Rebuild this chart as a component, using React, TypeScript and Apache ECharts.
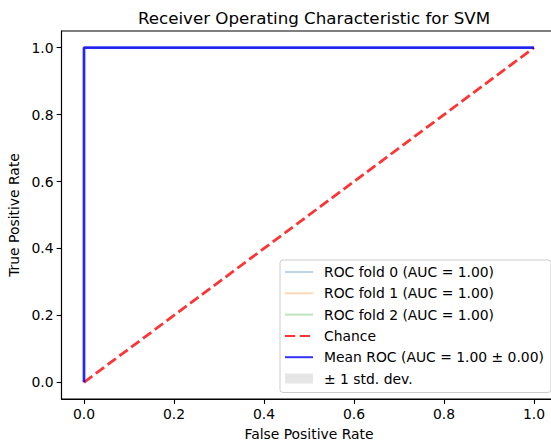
import React, { useEffect, useRef } from "react";
import * as echarts from "echarts";

const titleText = "Receiver Operating Characteristic for SVM";
const xAxisName = "False Positive Rate";
const yAxisName = "True Positive Rate";
const tickValues = [0, 0.2, 0.4, 0.6, 0.8, 1.0];

const foldNames = [
  "ROC fold 0 (AUC = 1.00)",
  "ROC fold 1 (AUC = 1.00)",
  "ROC fold 2 (AUC = 1.00)",
];
const foldColors = ["rgba(31,119,180,0.3)", "rgba(255,127,14,0.3)", "rgba(44,160,44,0.3)"];
const foldFpr = [
  [0, 0, 1],
  [0, 0, 1],
  [0, 0, 1],
];
const foldTpr = [
  [0, 1, 1],
  [0, 1, 1],
  [0, 1, 1],
];
const chanceName = "Chance";
const chanceFpr = [0, 1];
const chanceTpr = [0, 1];
const meanName = "Mean ROC (AUC = 1.00 \u00b1 0.00)";
const meanFpr = [0, 0, 1];
const meanTpr = [0, 1, 1];
const stdName = "\u00b1 1 std. dev.";
const stdUpperTpr = [0, 1, 1];

const FONT = "DejaVu Sans";
const zip = (xs: number[], ys: number[]) => xs.map((x, i) => [x, ys[i]]);

export default function App() {
  const ref = useRef<HTMLDivElement>(null);
  useEffect(() => {
    if (!ref.current) return;
    const chart = echarts.init(ref.current, undefined, { renderer: "svg" });
    const axisCommon = {
      type: "value" as const,
      min: -0.05,
      max: 1.05,
      nameLocation: "middle" as const,
      nameTextStyle: { color: "#000", fontSize: 13.9, fontFamily: FONT },
      axisLine: { show: true, onZero: false, lineStyle: { color: "#000", width: 1.1 } },
      axisTick: {
        show: true,
        length: 4.9,
        customValues: tickValues,
        lineStyle: { color: "#000", width: 1.1 },
      },
      axisLabel: {
        customValues: tickValues,
        color: "#000",
        fontSize: 13.9,
        fontFamily: FONT,
        formatter: (v: number) => v.toFixed(1),
      },
      splitLine: { show: false },
    };
    const series: any[] = [];
    foldNames.forEach((n, i) => {
      series.push({
        name: n,
        type: "line",
        data: zip(foldFpr[i], foldTpr[i]),
        symbol: "none",
        lineStyle: { color: foldColors[i], width: 1.39 },
        itemStyle: { color: foldColors[i] },
      });
    });
    series.push({
      name: chanceName,
      type: "line",
      data: zip(chanceFpr, chanceTpr),
      symbol: "none",
      lineStyle: { color: "rgba(255,0,0,0.8)", width: 2.78, type: [10.3, 4.4] },
      itemStyle: { color: "rgba(255,0,0,0.8)" },
    });
    series.push({
      name: meanName,
      type: "line",
      data: zip(meanFpr, meanTpr),
      symbol: "none",
      lineStyle: { color: "rgba(0,0,255,0.8)", width: 2.78 },
      itemStyle: { color: "rgba(0,0,255,0.8)" },
    });
    series.push({
      name: stdName,
      type: "line",
      data: zip(meanFpr, stdUpperTpr),
      symbol: "none",
      lineStyle: { opacity: 0, width: 0 },
      itemStyle: { color: "rgba(128,128,128,0.2)" },
    });

    chart.setOption({
      animation: false,
      title: {
        text: titleText,
        left: 309,
        textAlign: "center",
        top: 4,
        textStyle: { color: "#000", fontSize: 16.7, fontWeight: "normal", fontFamily: FONT },
      },
      grid: {
        left: 61.5,
        top: 31,
        width: 495,
        height: 368,
        show: true,
        borderColor: "#000",
        borderWidth: 1.1,
        backgroundColor: "#fff",
        containLabel: false,
        outerBoundsMode: "none",
      },
      xAxis: { ...axisCommon, name: xAxisName, nameGap: 28 },
      yAxis: { ...axisCommon, name: yAxisName, nameGap: 36 },
      legend: {
        orient: "vertical",
        left: 280,
        top: 260,
        itemWidth: 28,
        itemHeight: 10,
        itemGap: 7.3,
        padding: [5, 7, 7, 4],
        backgroundColor: "rgba(255,255,255,0.8)",
        borderColor: "#cccccc",
        borderWidth: 1,
        borderRadius: 3,
        itemStyle: { color: "rgba(0,0,0,0)", borderWidth: 0, opacity: 0 },
        textStyle: { color: "#000", fontSize: 13.9, fontFamily: FONT, lineHeight: 14, padding: [0, 0, 0, 6] },
        data: [
          ...foldNames.map((n) => ({ name: n })),
          { name: chanceName },
          { name: meanName },
          {
            name: stdName,
            icon: "rect",
            itemStyle: { color: "rgba(128,128,128,0.2)", opacity: 1, borderWidth: 0 },
          },
        ],
      },
      series,
    });
    return () => chart.dispose();
  }, []);
  return (
    <div
      ref={ref}
      style={{ position: "absolute", left: 0, top: 0, width: 551, height: 445, background: "#fff" }}
    />
  );
}
